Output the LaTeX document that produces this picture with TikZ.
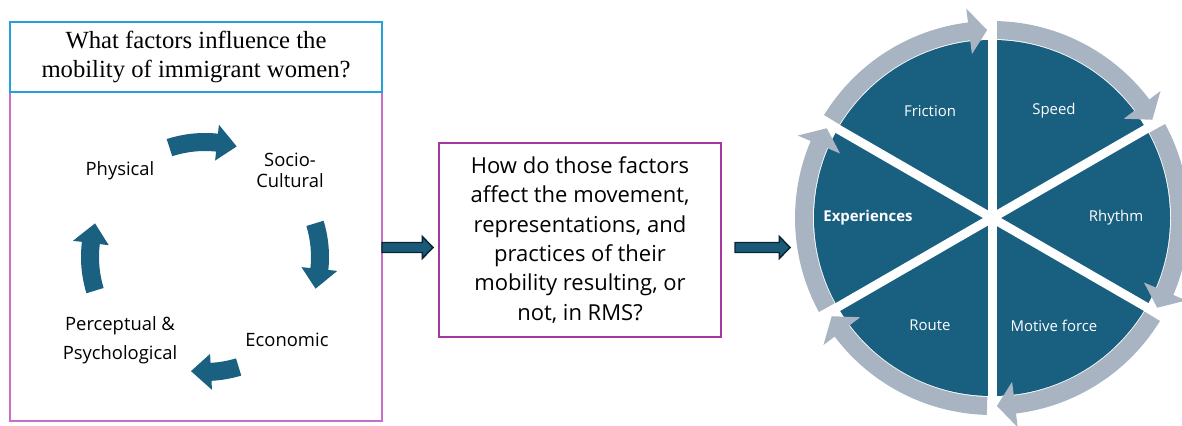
\documentclass[tikz,border=0pt]{standalone}
\usepackage{fontspec}
\setmainfont{Liberation Serif}
\setsansfont{Open Sans}
\usetikzlibrary{calc,positioning}

\definecolor{framepink}{RGB}{200,110,200}
\definecolor{framemag}{RGB}{165,55,160}
\definecolor{titleblue}{RGB}{35,160,215}
\definecolor{cycleteal}{RGB}{26,96,128}
\definecolor{wheelblue}{RGB}{25,95,128}
\definecolor{ringgray}{RGB}{168,180,194}
\definecolor{arrowteal}{RGB}{26,90,120}
\definecolor{arrowdark}{RGB}{12,35,50}

\tikzset{
  leftframe/.style={draw=framepink,line width=1.1pt,inner sep=0pt,outer sep=0pt},
  titleframe/.style={draw=titleblue,line width=1.1pt,inner sep=0pt,outer sep=0pt,
    align=center,font=\fontsize{18.5}{21.75}\selectfont},
  qframe/.style={draw=framemag,line width=1.5pt,inner sep=0pt,outer sep=0pt,
    align=center,font=\sffamily\fontsize{16.5}{22}\selectfont},
  cyclelabel/.style={align=center,inner sep=0pt,font=\sffamily\fontsize{13.8}{16}\selectfont},
  wheellabel/.style={text=white,inner sep=0pt,font=\sffamily\fontsize{11.2}{13}\selectfont},
  gapline/.style={draw=white,line width=6.75pt},
  blockarrow/.style={draw=arrowdark,fill=arrowteal,line width=1.1pt,line join=miter,
    to path={([yshift=3.75pt]\tikztostart)
      -- ([xshift=-8pt,yshift=3.75pt]\tikztotarget)
      -- ([xshift=-8pt,yshift=8.25pt]\tikztotarget)
      -- (\tikztotarget)
      -- ([xshift=-8pt,yshift=-8.25pt]\tikztotarget)
      -- ([xshift=-8pt,yshift=-3.75pt]\tikztotarget)
      -- ([yshift=-3.75pt]\tikztostart) -- cycle}}
}

\begin{document}
\begin{tikzpicture}[x=0.75pt,y=0.75pt]
\useasboundingbox (0,0) rectangle (1182,425);

% left panel
\node[leftframe,minimum width=279pt,minimum height=299.25pt] (leftbox) at (196,203.5) {};
\node[titleframe,minimum width=279pt,minimum height=52.5pt,anchor=north] (title)
  at (leftbox.north) {What factors influence the\\mobility of immigrant women?};

\coordinate (cyc) at (205,168);
\foreach \a/\b [evaluate=\b as \h using \b+10] in {108/74,17/-16,-73/-97,197/163}
  \fill[cycleteal] ($(cyc)+(\a:124)$) arc[start angle=\a,end angle=\h,radius=124]
    -- ($(cyc)+(\h:133)$) -- ($(cyc)+(\b:115)$) -- ($(cyc)+(\h:97)$)
    -- ($(cyc)+(\h:106)$) arc[start angle=\h,end angle=\a,radius=106] -- cycle;

\node[cyclelabel] (physical) at (120,254) {Physical};
\node[cyclelabel] (socio) at (290,254.5) {Socio-\\Cultural};
\node[cyclelabel] (economic) at (287,85) {Economic};
\node[cyclelabel] (percept) at (120,85) {Perceptual \&\\[6pt]Psychological};

% question box
\node[qframe,minimum width=211.5pt,minimum height=145.5pt] (qbox) at (580,185)
  {How do those factors\\affect the movement,\\representations, and\\practices of their\\mobility resulting, or\\not, in RMS?};

% wheel
\node[circle,minimum size=297pt,inner sep=0pt,outer sep=0pt] (wheel) at (992,207) {};
\fill[wheelblue] (wheel.center) circle[radius=178];
\foreach \s [evaluate=\s as \st using \s-1.5,
             evaluate=\s as \t using \s-58.5,
             evaluate=\s as \h using \s-53] in {150,90,30,-30,-90,-150}
  \fill[ringgray] ($(wheel.center)+(\st:197)$) arc[start angle=\st,end angle=\h,radius=197]
    -- ($(wheel.center)+(\h:211)$) -- ($(wheel.center)+(\t:188)$) -- ($(wheel.center)+(\h:165)$)
    -- ($(wheel.center)+(\h:179)$) arc[start angle=\h,end angle=\st,radius=179] -- cycle;
\foreach \a in {90,30,150}
  \draw[gapline] ($(wheel.center)+(\a:199)$) -- ($(wheel.center)+(\a+180:199)$);

\foreach \a/\txt/\nm in {120/Friction/friction,60/Speed/speed,0/Rhythm/rhythm,
                         -60/Motive force/motive,-120/Route/route}
  \node[wheellabel] (\nm) at ($(wheel.center)+(\a:124)$) {\txt};
\node[wheellabel] (experiences) at ($(wheel.center)+(180:124)$) {\bfseries Experiences};

% block arrows
\coordinate (a1s) at (leftbox.east |- 0,177.5);
\coordinate (a1e) at ([xshift=-4.5pt]qbox.west |- 0,177.5);
\coordinate (a2s) at ([xshift=10.5pt]qbox.east |- 0,177.5);
\coordinate (a2e) at ([xshift=-3pt]wheel.west |- 0,177.5);
\draw[blockarrow] (a1s) to (a1e);
\draw[blockarrow] (a2s) to (a2e);
\end{tikzpicture}
\end{document}
